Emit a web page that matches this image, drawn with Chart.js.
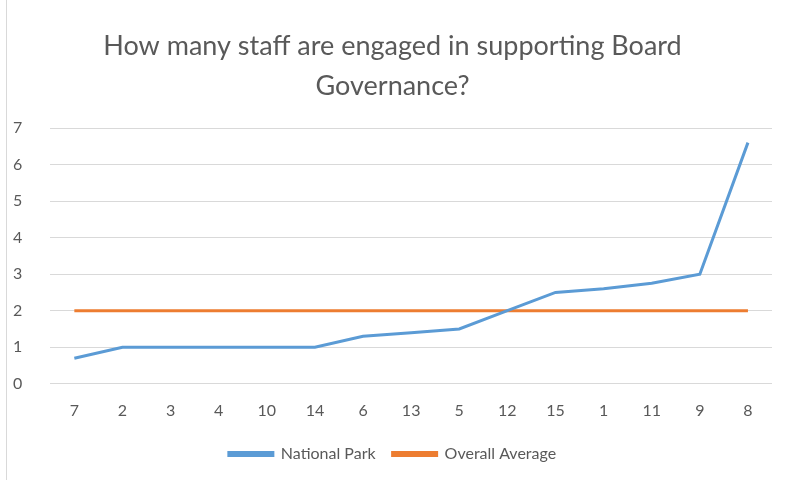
<!DOCTYPE html>
<html>
<head>
<meta charset="utf-8">
<script src="https://cdn.jsdelivr.net/npm/chart.js@4"></script>
<style>
  html, body { margin: 0; padding: 0; background: #fff; }
  #wrap { position: absolute; left: 6px; top: 0; width: 779px; height: 480px; border-left: 1px solid #d9d9d9; }
</style>
</head>
<body>
<div id="wrap"><canvas id="staffChart" width="778" height="480"></canvas></div>
<script>
// categories (park ids) and series values
const parks = ['7', '2', '3', '4', '10', '14', '6', '13', '5', '12', '15', '1', '11', '9', '8'];
const nationalPark = [0.7, 1, 1, 1, 1, 1, 1.3, 1.4, 1.5, 2, 2.5, 2.6, 2.75, 3, 6.6];
const overallAverage = [2, 2, 2, 2, 2, 2, 2, 2, 2, 2, 2, 2, 2, 2, 2];
const yTicks = [0, 1, 2, 3, 4, 5, 6, 7];

const fontFamily = 'Lato, "Open Sans", sans-serif';
const gray = '#595959';

const ctx = document.getElementById('staffChart');
new Chart(ctx, {
    type: 'line',
    data: {
        labels: parks,
        datasets: [
            {
                label: 'National Park',
                data: nationalPark,
                borderColor: '#5B9BD5',
                backgroundColor: '#5B9BD5',
                borderWidth: 3,
                pointRadius: 0,
                tension: 0
            },
            {
                label: 'Overall Average',
                data: overallAverage,
                borderColor: '#ED7D31',
                backgroundColor: '#ED7D31',
                borderWidth: 3,
                pointRadius: 0,
                tension: 0
            }
        ]
    },
    options: {
        responsive: false,
        animation: false,
        layout: { padding: { left: 6, right: 13, top: 26, bottom: 8 } },
        scales: {
            x: {
                offset: true,
                grid: { display: false },
                border: { display: false },
                ticks: { color: gray, font: { family: fontFamily, size: 16 }, padding: 9 }
            },
            y: {
                min: 0,
                max: 7,
                afterBuildTicks: axis => { axis.ticks = yTicks.map(v => ({ value: v })); },
                grid: { color: '#d9d9d9', drawTicks: false },
                border: { display: false },
                ticks: { color: gray, font: { family: fontFamily, size: 16 }, padding: 14, crossAlign: 'far' }
            }
        },
        plugins: {
            title: {
                display: true,
                text: ['How many staff are engaged in supporting Board', 'Governance?'],
                color: gray,
                font: { family: fontFamily, size: 27, weight: 'normal', lineHeight: 1.5 },
                padding: { top: 0, bottom: 21 }
            },
            legend: {
                position: 'bottom',
                labels: {
                    color: gray,
                    font: { family: fontFamily, size: 16 },
                    boxWidth: 44,
                    boxHeight: 3,
                    padding: 17
                }
            },
            tooltip: { enabled: false }
        }
    }
});
</script>
</body>
</html>
